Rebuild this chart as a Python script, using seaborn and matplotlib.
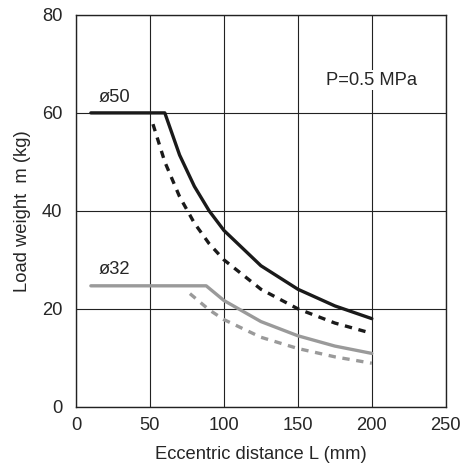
import matplotlib
matplotlib.use("Agg")
import matplotlib.pyplot as plt
import seaborn as sns
import pandas as pd

# ø50 curves
d50_solid_L = [10, 60, 70, 80, 90, 100, 125, 150, 175, 200]
d50_solid_m = [60, 60, 51.4, 45, 40, 36, 28.8, 24, 20.6, 18]
d50_dash_L = [52, 60, 70, 80, 90, 100, 125, 150, 175, 200]
d50_dash_m = [57.7, 50, 42.9, 37.5, 33.3, 30, 24, 20, 17.1, 15]

# ø32 curves
d32_solid_L = [10, 88, 100, 125, 150, 175, 200]
d32_solid_m = [24.7, 24.7, 21.7, 17.4, 14.5, 12.4, 10.9]
d32_dash_L = [77, 90, 100, 125, 150, 175, 200]
d32_dash_m = [23.1, 19.8, 17.8, 14.2, 11.9, 10.2, 8.9]

BLACK = "#1a1a1a"
GRAY = "#9a9a9a"
TXT = "#262626"
FS = 13.2

sns.set_style("white")
plt.rcParams["font.family"] = ["Liberation Sans", "DejaVu Sans"]

fig = plt.figure(figsize=(4.61, 4.66), dpi=100)
ax = fig.add_axes([0.165, 0.127, 0.802, 0.841])

series = [
    (d50_solid_L, d50_solid_m, BLACK, "-"),
    (d50_dash_L, d50_dash_m, BLACK, (0, (2.2, 2.0))),
    (d32_solid_L, d32_solid_m, GRAY, "-"),
    (d32_dash_L, d32_dash_m, GRAY, (0, (2.2, 2.0))),
]
for L, m, c, ls in series:
    df = pd.DataFrame({"L": L, "m": m})
    sns.lineplot(data=df, x="L", y="m", ax=ax, color=c, linewidth=2.4,
                 linestyle=ls, sort=False, estimator=None)

ax.set_xlim(0, 250)
ax.set_ylim(0, 80)
ax.set_xticks([0, 50, 100, 150, 200, 250])
ax.set_yticks([0, 20, 40, 60, 80])
ax.grid(True, color="#222222", linewidth=0.8)
for s in ax.spines.values():
    s.set_color("#222222")
    s.set_linewidth(1.0)
ax.tick_params(axis="y", length=0, pad=10, labelsize=FS, colors=TXT)
ax.tick_params(axis="x", length=0, pad=7, labelsize=FS, colors=TXT)

ax.set_xlabel("Eccentric distance L (mm)", fontsize=FS, labelpad=9, color=TXT)
ax.set_ylabel("Load weight  m (kg)", fontsize=FS, labelpad=8, color=TXT)

ax.text(15, 61.5, "ø50", fontsize=FS, va="bottom", ha="left", color=TXT)
ax.text(15, 26.2, "ø32", fontsize=FS, va="bottom", ha="left", color=TXT)
ax.text(169, 66.7, "P=0.5 MPa", fontsize=FS, va="center", ha="left", color=TXT,
        bbox=dict(facecolor="white", edgecolor="none", pad=1))

fig.savefig("out.png", dpi=100)
